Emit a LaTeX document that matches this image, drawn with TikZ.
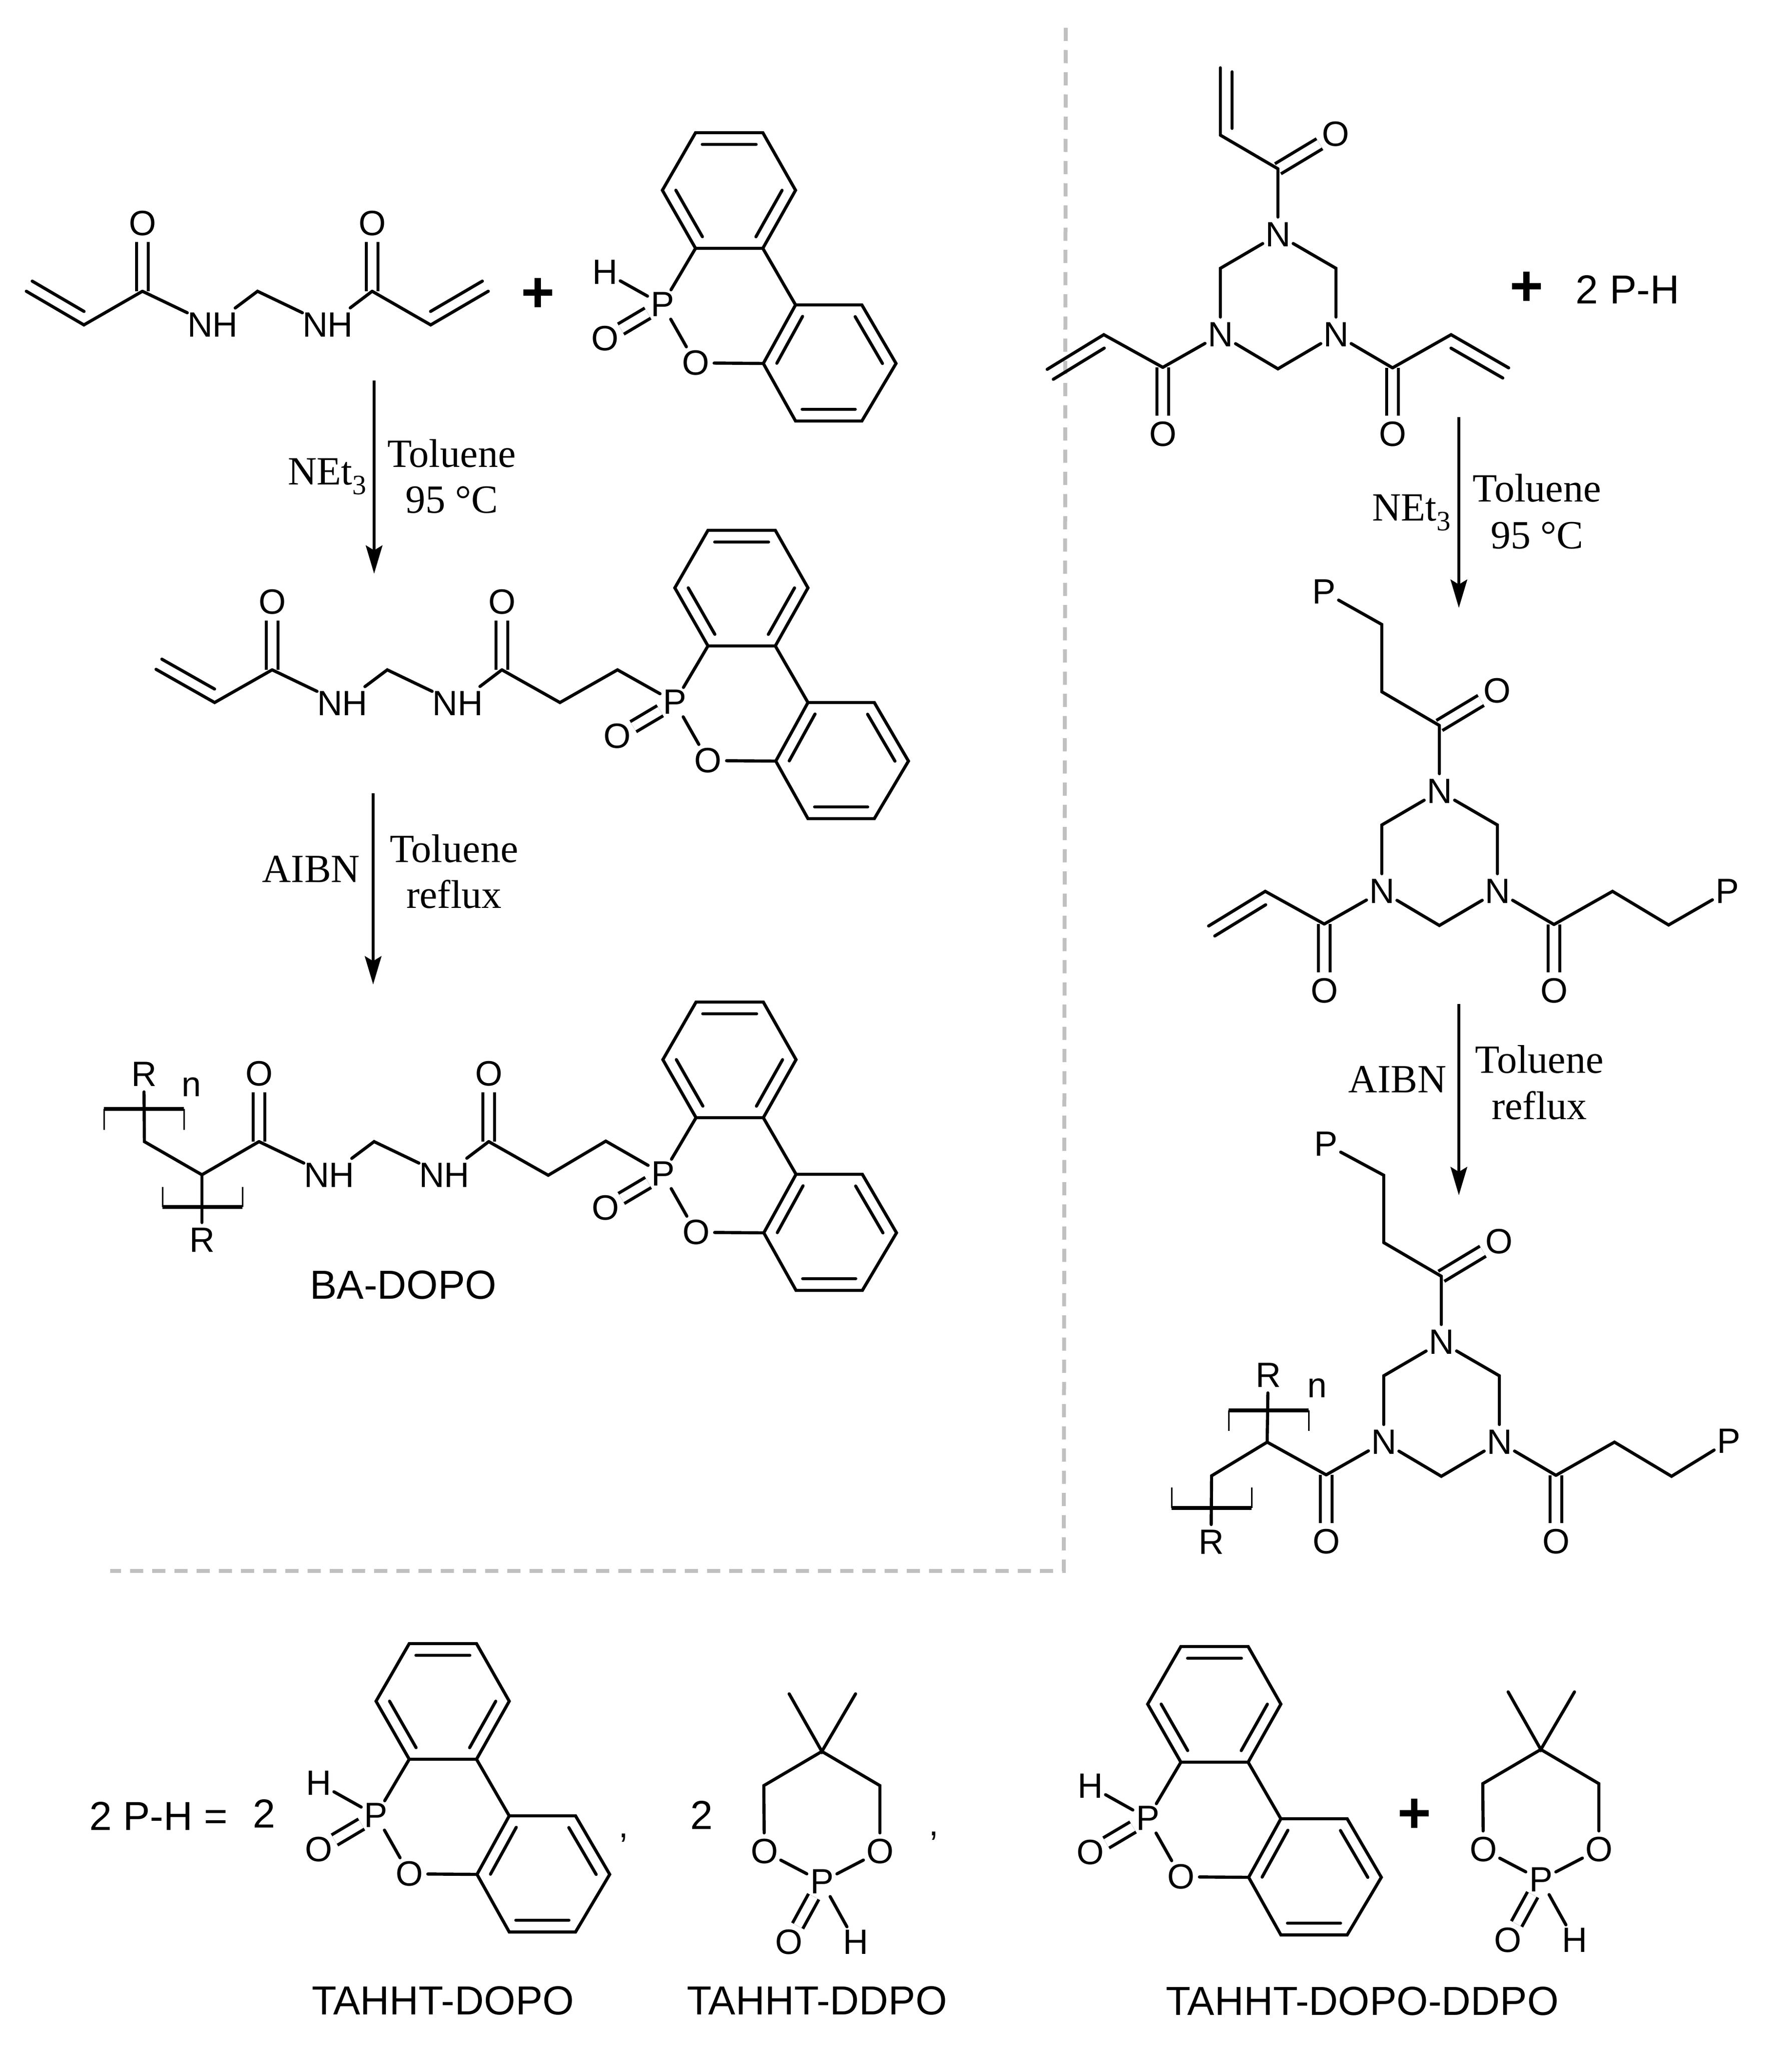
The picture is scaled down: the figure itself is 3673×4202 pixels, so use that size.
\documentclass[tikz,border=0pt]{standalone}
\usepackage{fontspec}
\setmainfont{Liberation Sans}
\newfontfamily\timesfont{Liberation Serif}
\usetikzlibrary{arrows.meta,calc}
\definecolor{dashgray}{HTML}{C0C0C0}
\tikzset{
	bond/.style={line width=3.2pt,line cap=round,line join=miter},
	dbond/.style={line width=3.2pt,double,double distance=8.8pt},
	thickbar/.style={line width=3.6pt},
	thinbar/.style={line width=1.5pt},
	react/.style={line width=3pt,-{Stealth[length=29pt,width=17pt,inset=5pt]}},
	dashline/.style={dashgray,line width=4pt,dash pattern=on 13.5pt off 9.25pt},
	atom/.style={circle,inner sep=0pt,font=\fontsize{36}{36}\selectfont},
	tag/.style={inner sep=0pt,font=\fontsize{41.5}{48}\selectfont},
	reagent/.style={inner sep=0pt,anchor=base,font=\timesfont\fontsize{41}{48}\selectfont},
	plus/.style={inner sep=0pt,font=\bfseries\fontsize{59}{59}\selectfont}
}
\newcommand{\innerbond}[4][.1]{\draw [bond] ($(#2)!.1!(#3)!12pt!#4:(#3)$) -- ($(#3)!#1!(#2)!12pt!-1*#4:(#2)$) ;}
\newcommand{\polybar}[2]{
	\draw [thickbar] ($(#1)+(-82,0)$) -- ($(#1)+(82,0)$) ;
	\draw [thinbar] ($(#1)+(-82,0)$) -- ++(0,#2) ;
	\draw [thinbar] ($(#1)+(82,0)$) -- ++(0,#2) ;
}
\newcommand{\dopo}[3]{
	\begin{scope}[shift={(#2,#3)}]
		\foreach \nm/\xx/\yy in {a/1426/272,b/1564/272,c/1631/390,d/1564/509,e/1426/509,f/1358/390,g/1631/625,h/1767/625,i/1837/745,j/1767/863,k/1631/863,l/1565/745}
			\coordinate (#1\nm) at (\xx,\yy) ;
		\node [atom] (#1P)  at (1358,624) {P} ;
		\node [atom] (#1Or) at (1426,744) {O} ;
		\node [atom] (#1Od) at (1240,694) {O} ;
		\draw [dbond] (#1P) -- (#1Od) ;
		\draw [bond] (#1a) -- (#1b) -- (#1c) -- (#1d) -- (#1e) -- (#1f) -- cycle ;
		\draw [bond] (#1g) -- (#1h) -- (#1i) -- (#1j) -- (#1k) -- (#1l) -- cycle ;
		\draw [bond] (#1d) -- (#1g) ;
		\draw [bond] (#1e) -- (#1P) ;
		\draw [bond] (#1P) -- (#1Or) ;
		\draw [bond] (#1Or) -- (#1l) ;
		\innerbond{#1a}{#1b}{-90}
		\innerbond{#1c}{#1d}{-90}
		\innerbond{#1e}{#1f}{-90}
		\innerbond{#1h}{#1i}{-90}
		\innerbond{#1j}{#1k}{-90}
		\innerbond{#1l}{#1g}{-90}
	\end{scope}
}
\newcommand{\dopoH}[3]{
	\begin{scope}[shift={(#2,#3)}]
		\node [atom] (#1H) at (1240,558) {H} ;
		\draw [bond] (#1P) -- (#1H) ;
	\end{scope}
}
\newcommand{\ddpo}[3]{
	\begin{scope}[shift={(#2,#3)}]
		\foreach \nm/\xx/\yy in {q/1685/3590,m/1618/3472,n/1754/3472,l/1566/3660,r/1804/3660}
			\coordinate (#1\nm) at (\xx,\yy) ;
		\node [atom] (#1Ol) at (1567,3795) {O} ;
		\node [atom] (#1Or) at (1804,3795) {O} ;
		\node [atom] (#1P)  at (1685,3857) {P} ;
		\node [atom] (#1Od) at (1617,3981) {O} ;
		\node [atom] (#1H)  at (1754,3981) {H} ;
		\draw [dbond] (#1P) -- (#1Od) ;
		\draw [bond] (#1m) -- (#1q) -- (#1n) ;
		\draw [bond] (#1Ol) -- (#1l) -- (#1q) -- (#1r) -- (#1Or) ;
		\draw [bond] (#1Ol) -- (#1P) -- (#1Or) ;
		\draw [bond] (#1P) -- (#1H) ;
	\end{scope}
}
\newcommand{\diamide}[3]{
	\begin{scope}[shift={(#2,#3)}]
		\coordinate (#1c) at (292,597) ;
		\coordinate (#1m) at (528,597) ;
		\coordinate (#1d) at (763,597) ;
		\node [atom] (#1Oa) at (292,458) {O} ;
		\node [atom] (#1Ob) at (763,458) {O} ;
		\node [atom] (#1Na) at (436,666) {NH} ;
		\node [atom] (#1Nb) at (672,666) {NH} ;
		\draw [dbond] (#1c) -- (#1Oa) ;
		\draw [dbond] (#1d) -- (#1Ob) ;
		\draw [bond] (#1c) -- (#1Na) -- (#1m) -- (#1Nb) -- (#1d) ;
	\end{scope}
}
\newcommand{\tahht}[3]{
	\begin{scope}[shift={(#2,#3)}]
		\foreach \nm/\xx/\yy in {t/2620/346,u/2502/277,v/2502/139,a/2502/550,b/2739/550,c/2620/756,l/2384/753,m/2263/686,n/2147/757,r/2855/754,s/2975/686,w/3093/754}
			\coordinate (#1\nm) at (\xx,\yy) ;
		\node [atom] (#1Na) at (2620,481) {N} ;
		\node [atom] (#1Nb) at (2502,686) {N} ;
		\node [atom] (#1Nc) at (2739,686) {N} ;
		\node [atom] (#1Ot) at (2738,275) {O} ;
		\node [atom] (#1Ol) at (2384,890) {O} ;
		\node [atom] (#1Or) at (2855,890) {O} ;
		\draw [dbond] (#1t) -- (#1Ot) ;
		\draw [dbond] (#1l) -- (#1Ol) ;
		\draw [dbond] (#1r) -- (#1Or) ;
		\draw [bond] (#1t) -- (#1Na) -- (#1a) -- (#1Nb) -- (#1c) -- (#1Nc) -- (#1b) -- (#1Na) ;
		\draw [bond] (#1l) -- (#1Nb) ;
		\draw [bond] (#1r) -- (#1Nc) ;
		\draw [bond] (#1t) -- (#1u) ;
	\end{scope}
}
\begin{document}
\begin{tikzpicture}[x=0.5pt,y=-0.5pt]
	\useasboundingbox (0,0) rectangle (3673,4202) ;

	\coordinate (DashTop)    at (2185,57) ;
	\coordinate (DashCorner) at (2181,3220) ;
	\coordinate (DashEnd)    at (226,3220) ;
	\draw [dashline] (DashTop) -- (DashCorner) -- (DashEnd) ;

	\diamide{A}{0}{0}
	\coordinate (Av) at (172,666) ;
	\coordinate (Aw) at (54,597) ;
	\coordinate (Ax) at (883,666) ;
	\coordinate (Ay) at (1001,597) ;
	\draw [bond] (Aw) -- (Av) -- (Ac) ;
	\draw [bond] (Ad) -- (Ax) -- (Ay) ;
	\innerbond[0]{Av}{Aw}{-90}
	\innerbond[0]{Ax}{Ay}{90}
	\node [plus] (Aplus) at (1103,605) {+} ;
	\dopo{DA}{0}{0}
	\dopoH{DA}{0}{0}

	\coordinate (ArA1) at (767,780) ;
	\coordinate (ArA2) at (767,1176) ;
	\draw [react] (ArA1) -- (ArA2) ;
	\node [reagent] (NetA) at (671,993) {NEt\textsubscript{3}} ;
	\node [reagent] (TolA) at (926,957) {Toluene} ;
	\node [reagent] (TmpA) at (926,1051) {95 °C} ;

	\diamide{B}{266}{776}
	\coordinate (Bv) at (440,1440) ;
	\coordinate (Bw) at (320,1372) ;
	\coordinate (Bx) at (1148,1440) ;
	\coordinate (By) at (1266,1373) ;
	\dopo{DB}{25.5}{815}
	\draw [bond] (Bw) -- (Bv) -- (Bc) ;
	\draw [bond] (Bd) -- (Bx) -- (By) -- (DBP) ;
	\innerbond[0]{Bv}{Bw}{-90}

	\coordinate (ArB1) at (765,1626) ;
	\coordinate (ArB2) at (765,2018) ;
	\draw [react] (ArB1) -- (ArB2) ;
	\node [reagent] (IniB) at (638,1808) {AIBN} ;
	\node [reagent] (TolB) at (931,1767) {Toluene} ;
	\node [reagent] (RefB) at (931,1861) {reflux} ;

	\diamide{C}{239}{1743}
	\coordinate (Cu) at (296,2340) ;
	\coordinate (Cv) at (414,2408) ;
	\coordinate (Cx) at (1124,2409) ;
	\coordinate (Cy) at (1242,2339) ;
	\coordinate (Cbt) at (295,2273) ;
	\coordinate (Cbb) at (415,2474) ;
	\node [atom] (CRt) at (295,2202) {R} ;
	\node [atom] (CRb) at (414,2542) {R} ;
	\node [atom] (Cnn) at (393,2228) {n} ;
	\dopo{DC}{1}{1782}
	\draw [bond] (CRt) -- (Cu) -- (Cv) -- (Cc) ;
	\draw [bond] (Cv) -- (CRb) ;
	\draw [bond] (Cd) -- (Cx) -- (Cy) -- (DCP) ;
	\polybar{Cbt}{43}
	\polybar{Cbb}{-41}
	\node [tag] (Cname) at (827,2634) {BA-DOPO} ;

	\tahht{E}{0}{0}
	\draw [bond] (Eu) -- (Ev) ;
	\draw [bond] (El) -- (Em) -- (En) ;
	\draw [bond] (Er) -- (Es) -- (Ew) ;
	\innerbond[.06]{Eu}{Ev}{-90}
	\innerbond[0]{Em}{En}{90}
	\innerbond[0]{Es}{Ew}{-90}
	\node [plus] (Eplus) at (3130,592) {+} ;
	\node [tag]  (EPH)   at (3337,594) {2 P-H} ;

	\coordinate (ArE1) at (2991,855) ;
	\coordinate (ArE2) at (2991,1246) ;
	\draw [react] (ArE1) -- (ArE2) ;
	\node [reagent] (NetE) at (2894,1067) {NEt\textsubscript{3}} ;
	\node [reagent] (TolE) at (3151,1028) {Toluene} ;
	\node [reagent] (TmpE) at (3151,1124) {95 °C} ;

	\tahht{F}{331}{1141}
	\node [atom] (FPt) at (2714,1213) {P} ;
	\node [atom] (FPr) at (3541,1827) {P} ;
	\coordinate (Fg) at (3421,1896) ;
	\draw [bond] (Fu) -- (Fv) -- (FPt) ;
	\draw [bond] (Fl) -- (Fm) -- (Fn) ;
	\draw [bond] (Fr) -- (Fs) -- (Fg) -- (FPr) ;
	\innerbond[0]{Fm}{Fn}{90}

	\coordinate (ArF1) at (2991,2058) ;
	\coordinate (ArF2) at (2991,2450) ;
	\draw [react] (ArF1) -- (ArF2) ;
	\node [reagent] (IniF) at (2865,2239) {AIBN} ;
	\node [reagent] (TolF) at (3156,2199) {Toluene} ;
	\node [reagent] (RefF) at (3156,2294) {reflux} ;

	\tahht{G}{335}{2270}
	\node [atom] (GPt) at (2718,2345) {P} ;
	\node [atom] (GPr) at (3544,2954) {P} ;
	\node [atom] (GRt) at (2600,2819) {R} ;
	\node [atom] (GRb) at (2483,3161) {R} ;
	\node [atom] (Gnn) at (2700,2845) {n} ;
	\coordinate (Gg)  at (3427,3026) ;
	\coordinate (Gk)  at (2484,3025) ;
	\coordinate (Gbt) at (2601,2891) ;
	\coordinate (Gbb) at (2484,3091) ;
	\draw [bond] (Gu) -- (Gv) -- (GPt) ;
	\draw [bond] (Gl) -- (Gm) -- (GRt) ;
	\draw [bond] (Gm) -- (Gk) -- (GRb) ;
	\draw [bond] (Gr) -- (Gs) -- (Gg) -- (GPr) ;
	\polybar{Gbt}{42}
	\polybar{Gbb}{-42}

	\node [tag] (PHa) at (325,3722) {2 P-H =} ;
	\node [tag] (PHb) at (542,3717) {2} ;
	\dopo{DH}{-587}{3097}
	\dopoH{DH}{-587}{3097}
	\node [atom] (Coma) at (1278,3767) {,} ;
	\node [tag] (PHc) at (1439,3720) {2} ;
	\ddpo{K}{0}{0}
	\node [atom] (Comb) at (1914,3763) {,} ;
	\dopo{DM}{995}{3103}
	\dopoH{DM}{995}{3103}
	\node [plus] (Mplus) at (2900,3722) {+} ;
	\ddpo{L}{1474}{-4}
	\node [tag] (Nma) at (908,4101) {TAHHT-DOPO} ;
	\node [tag] (Nmb) at (1675,4101) {TAHHT-DDPO} ;
	\node [tag] (Nmc) at (2793,4102) {TAHHT-DOPO-DDPO} ;
\end{tikzpicture}
\end{document}
